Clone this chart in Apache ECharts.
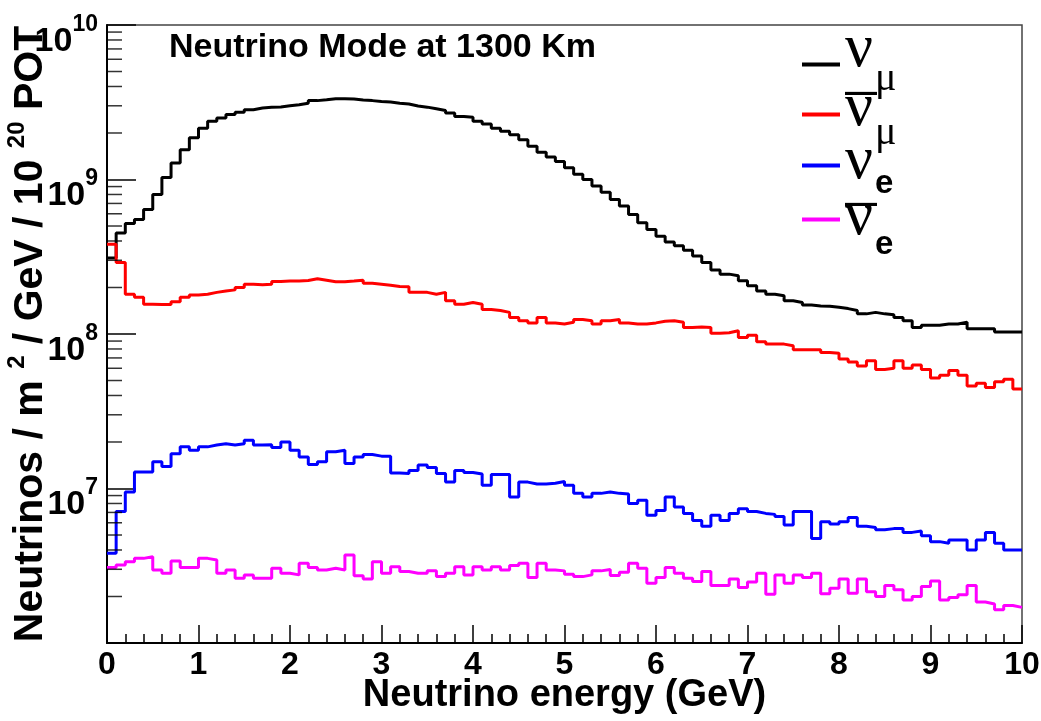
<!DOCTYPE html>
<html>
<head>
<meta charset="utf-8">
<script src="https://cdn.jsdelivr.net/npm/echarts@6/dist/echarts.min.js"></script>
<style>
html,body{margin:0;padding:0;background:#fff;}
#chart{width:1041px;height:721px;}
</style>
</head>
<body>
<div id="chart"></div>
<script>
// Histogram binning: 100 bins from 0 to 10 GeV
var BIN_LOW = 0, BIN_WIDTH = 0.1;

var numu = [
3.1e8,4.5e8,5.2e8,5.5e8,6.4e8,8.0e8,1.03e9,1.28e9,1.56e9,1.86e9,
2.15e9,2.38e9,2.5e9,2.63e9,2.72e9,2.83e9,2.9e9,2.93e9,2.95e9,3.0e9,
3.05e9,3.12e9,3.24e9,3.28e9,3.33e9,3.33e9,3.32e9,3.27e9,3.24e9,3.2e9,
3.17e9,3.12e9,3.08e9,2.99e9,2.94e9,2.87e9,2.80e9,2.69e9,2.56e9,2.53e9,
2.38e9,2.29e9,2.15e9,2.05e9,1.95e9,1.81e9,1.64e9,1.50e9,1.40e9,1.31e9,
1.19e9,1.08e9,1.0e9,9.06e8,8.28e8,7.43e8,6.73e8,5.94e8,5.25e8,4.75e8,
4.3e8,3.94e8,3.72e8,3.49e8,3.2e8,2.9e8,2.6e8,2.44e8,2.38e8,2.21e8,
2.05e8,1.90e8,1.81e8,1.77e8,1.64e8,1.60e8,1.54e8,1.52e8,1.51e8,1.49e8,
1.46e8,1.42e8,1.35e8,1.38e8,1.35e8,1.33e8,1.28e8,1.22e8,1.10e8,1.14e8,
1.14e8,1.16e8,1.16e8,1.19e8,1.08e8,1.08e8,1.08e8,1.03e8,1.03e8,1.03e8
];
var numubar = [
3.81e8,2.9e8,1.81e8,1.73e8,1.56e8,1.55e8,1.55e8,1.62e8,1.73e8,1.79e8,
1.81e8,1.86e8,1.90e8,1.93e8,2.0e8,2.1e8,2.08e8,2.1e8,2.19e8,2.2e8,
2.2e8,2.22e8,2.28e8,2.23e8,2.18e8,2.18e8,2.2e8,2.23e8,2.13e8,2.1e8,
2.07e8,2.03e8,2.02e8,1.86e8,1.86e8,1.81e8,1.86e8,1.64e8,1.56e8,1.60e8,
1.56e8,1.44e8,1.42e8,1.38e8,1.28e8,1.22e8,1.18e8,1.28e8,1.18e8,1.16e8,
1.19e8,1.24e8,1.22e8,1.16e8,1.22e8,1.24e8,1.18e8,1.16e8,1.16e8,1.18e8,
1.21e8,1.22e8,1.19e8,1.10e8,1.11e8,1.1e8,1.01e8,1.02e8,1.05e8,9.5e7,
9.8e7,8.9e7,8.6e7,8.6e7,8.4e7,7.9e7,7.9e7,7.9e7,7.6e7,7.5e7,
6.9e7,6.6e7,6.2e7,6.7e7,5.9e7,6.0e7,6.7e7,6.0e7,6.3e7,5.9e7,
5.2e7,5.4e7,5.8e7,5.4e7,4.6e7,4.8e7,4.5e7,4.9e7,5.1e7,4.4e7
];
var nue = [
3.81e6,7.1e6,9.5e6,1.28e7,1.28e7,1.49e7,1.39e7,1.68e7,1.86e7,1.77e7,
1.86e7,1.91e7,1.95e7,1.91e7,1.95e7,2.05e7,1.91e7,1.92e7,1.84e7,2.0e7,
1.77e7,1.60e7,1.43e7,1.49e7,1.73e7,1.77e7,1.45e7,1.60e7,1.66e7,1.62e7,
1.62e7,1.26e7,1.25e7,1.31e7,1.42e7,1.37e7,1.25e7,1.10e7,1.31e7,1.27e7,
1.24e7,1.05e7,1.23e7,1.23e7,8.8e6,1.10e7,1.07e7,1.07e7,1.08e7,1.11e7,
1.05e7,9.3e6,8.8e6,9.3e6,9.5e6,9.3e6,9.2e6,8.0e6,8.4e6,6.7e6,
7.2e6,8.8e6,7.6e6,6.9e6,6.2e6,5.7e6,6.7e6,6.2e6,6.9e6,7.4e6,
7.1e6,6.9e6,6.8e6,6.6e6,5.8e6,7.1e6,7.1e6,4.75e6,6.1e6,5.9e6,
6.1e6,6.5e6,5.7e6,5.6e6,5.4e6,5.5e6,5.5e6,5.2e6,5.3e6,4.95e6,
4.53e6,4.42e6,4.64e6,4.64e6,4.0e6,4.64e6,5.2e6,4.42e6,4.0e6,4.0e6
];
var nuebar = [
3.08e6,3.2e6,3.36e6,3.53e6,3.62e6,2.97e6,2.83e6,3.40e6,3.08e6,3.08e6,
3.53e6,3.45e6,2.83e6,2.97e6,2.62e6,2.76e6,2.62e6,2.62e6,3.05e6,2.83e6,
2.76e6,3.28e6,3.08e6,2.97e6,3.05e6,2.97e6,3.71e6,2.72e6,2.60e6,3.36e6,
2.83e6,3.12e6,2.90e6,2.83e6,2.83e6,2.93e6,2.69e6,2.83e6,3.12e6,2.76e6,
3.12e6,2.97e6,3.12e6,2.97e6,3.17e6,3.28e6,2.65e6,3.28e6,2.97e6,2.93e6,
2.79e6,2.69e6,2.76e6,2.93e6,2.99e6,2.73e6,2.87e6,3.28e6,3.05e6,2.44e6,
2.65e6,3.08e6,2.83e6,2.62e6,2.5e6,2.90e6,2.36e6,2.36e6,2.60e6,2.29e6,
2.48e6,2.83e6,2.07e6,2.76e6,2.44e6,2.76e6,2.65e6,2.83e6,2.08e6,2.26e6,
2.60e6,2.1e6,2.60e6,2.15e6,2.0e6,2.36e6,2.21e6,1.90e6,2.0e6,2.32e6,
2.52e6,1.90e6,1.97e6,2.05e6,2.36e6,1.84e6,1.79e6,1.64e6,1.75e6,1.70e6
];

var X_TICKS = [0,1,2,3,4,5,6,7,8,9,10];
var Y_DECADES = [1e6,1e7,1e8,1e9,1e10];
var Y_MINOR_TICKS = [
2e6,3e6,4e6,5e6,6e6,7e6,8e6,9e6,
2e7,3e7,4e7,5e7,6e7,7e7,8e7,9e7,
2e8,3e8,4e8,5e8,6e8,7e8,8e8,9e8,
2e9,3e9,4e9,5e9,6e9,7e9,8e9,9e9
];

var SERIES = [
  {name:'numu', values:numu, color:'#000000'},
  {name:'numubar', values:numubar, color:'#ff0000'},
  {name:'nue', values:nue, color:'#0000ff'},
  {name:'nuebar', values:nuebar, color:'#ff00ff'}
];
var LEGEND_TEXT = {
  numu: '{nu|\u03BD}{sub|\u03BC}',
  numubar: '{bar|\u2014}\n{nu|\u03BD}{sub|\u03BC}',
  nue: '{nu|\u03BD}{sub|e}',
  nuebar: '{bar|\u2014}\n{nu|\u03BD}{sub|e}'
};
var LEGEND_TOPS = [19, 77, 131, 179];

function histPoints(vals){
  var pts = [];
  for (var i = 0; i < vals.length; i++) {
    pts.push([+(BIN_LOW + i*BIN_WIDTH).toFixed(2), vals[i]]);
  }
  pts.push([+(BIN_LOW + vals.length*BIN_WIDTH).toFixed(2), vals[vals.length-1]]);
  return pts;
}

var FONT = 'Liberation Sans';
var chart = echarts.init(document.getElementById('chart'), null, {renderer:'canvas'});

var series = SERIES.map(function(s){
  return {
    name: s.name, type: 'line', step: 'end', showSymbol: false, symbol: 'none',
    data: histPoints(s.values), color: s.color,
    lineStyle: {color: s.color, width: 3}, animation: false, silent: true
  };
});
series.push({
  type: 'scatter', data: Y_MINOR_TICKS.map(function(v){return [0, v];}),
  symbol: 'rect', symbolSize: [15, 1.5], symbolOffset: [7.5, 0],
  itemStyle: {color: '#000'}, silent: true, animation: false, z: 5
});

// per-row vertical tuning of the legend glyphs (top/bottom paddings)
function legendRich(nuPadBottom, subPadTop, subIsE, barPad){
  return {
    nu: {fontFamily: 'Liberation Serif', fontSize: 62, lineHeight: 40, padding: [0,0,nuPadBottom,0], color: '#000'},
    sub: subIsE
      ? {fontFamily: FONT, fontWeight: 'bold', fontSize: 33, lineHeight: 40, padding: [subPadTop,0,0,2], color: '#000'}
      : {fontFamily: 'Liberation Serif', fontSize: 40, lineHeight: 40, padding: [subPadTop,0,0,2], color: '#000'},
    bar: {fontFamily: FONT, fontWeight: 'bold', fontSize: 32, lineHeight: 2, padding: barPad || [0,0,0,0], color: '#000'}
  };
}
var RICH = [
  legendRich(29, 29, false),
  legendRich(14, 36, false, [0,0,3,0]),
  legendRich(7, 36, true),
  legendRich(5, 49, true, [9,0,0,0])
];
var legends = SERIES.map(function(s, i){
  return {
    data: [s.name], orient: 'vertical', left: 802, top: LEGEND_TOPS[i], padding: 0,
    icon: 'rect', itemWidth: 38, itemHeight: 4, selectedMode: false,
    formatter: function(n){ return LEGEND_TEXT[n]; },
    textStyle: {color: '#000', rich: RICH[i]}
  };
});

chart.setOption({
  backgroundColor: '#fff',
  animation: false,
  title: {
    text: 'Neutrino Mode at 1300 Km', left: 164, top: 26,
    textStyle: {fontFamily: FONT, fontWeight: 'bold', fontSize: 34, color: '#000'}
  },
  legend: legends,
  grid: {left: 107, right: 19, top: 25, bottom: 78, show: true, containLabel: false, outerBoundsMode: 'none',
         borderColor: '#444', borderWidth: 1.5, backgroundColor: 'transparent'},
  xAxis: {
    type: 'value', min: 0, max: 10, interval: 1,
    name: 'Neutrino energy (GeV)', nameLocation: 'middle', nameGap: 34, nameMoveOverlap: false,
    nameTextStyle: {fontFamily: FONT, fontWeight: 'bold', fontSize: 38, color: '#000'},
    axisLine: {show: true, lineStyle: {color: '#000', width: 2}},
    axisTick: {show: true, inside: true, length: 18, lineStyle: {color: '#000', width: 1.5}},
    minorTick: {show: true, splitNumber: 5, length: 9, lineStyle: {color: '#000', width: 1.5}},
    splitLine: {show: false},
    axisLabel: {
      fontFamily: FONT, fontWeight: 'bold', fontSize: 32, color: '#000', margin: 6,
      formatter: function(v){ return X_TICKS.indexOf(v) >= 0 ? String(v) : ''; }
    }
  },
  yAxis: {
    type: 'log', logBase: 10, min: Y_DECADES[0], max: Y_DECADES[Y_DECADES.length-1],
    name: '{b|Neutrinos / m }{s|2}{b| / GeV / 10 }{s|20}{b| POT}',
    nameLocation: 'middle', nameRotate: 90, nameGap: 56, nameMoveOverlap: false,
    nameTextStyle: {
      color: '#000',
      rich: {
        b: {fontFamily: FONT, fontWeight: 'bold', fontSize: 41, lineHeight: 40, color: '#000'},
        s: {fontFamily: FONT, fontWeight: 'bold', fontSize: 24, lineHeight: 40, padding: [0,0,28,0], color: '#000'}
      }
    },
    axisLine: {show: true, lineStyle: {color: '#000', width: 2}},
    axisTick: {show: true, inside: true, length: 29, lineStyle: {color: '#000', width: 1.5}},
    splitLine: {show: false},
    axisLabel: {
      margin: 9, color: '#000', padding: [15,0,0,0],
      formatter: function(v){
        var e = Math.round(Math.log10(v));
        if (e <= 6) return '';
        return '{b|10}{s|' + e + '}';
      },
      rich: {
        b: {fontFamily: FONT, fontWeight: 'bold', fontSize: 34, lineHeight: 34, padding: [18,0,0,0], color: '#000'},
        s: {fontFamily: FONT, fontWeight: 'bold', fontSize: 23, lineHeight: 34, padding: [0,0,16,0], color: '#000'}
      }
    }
  },
  series: series
});
</script>
</body>
</html>
